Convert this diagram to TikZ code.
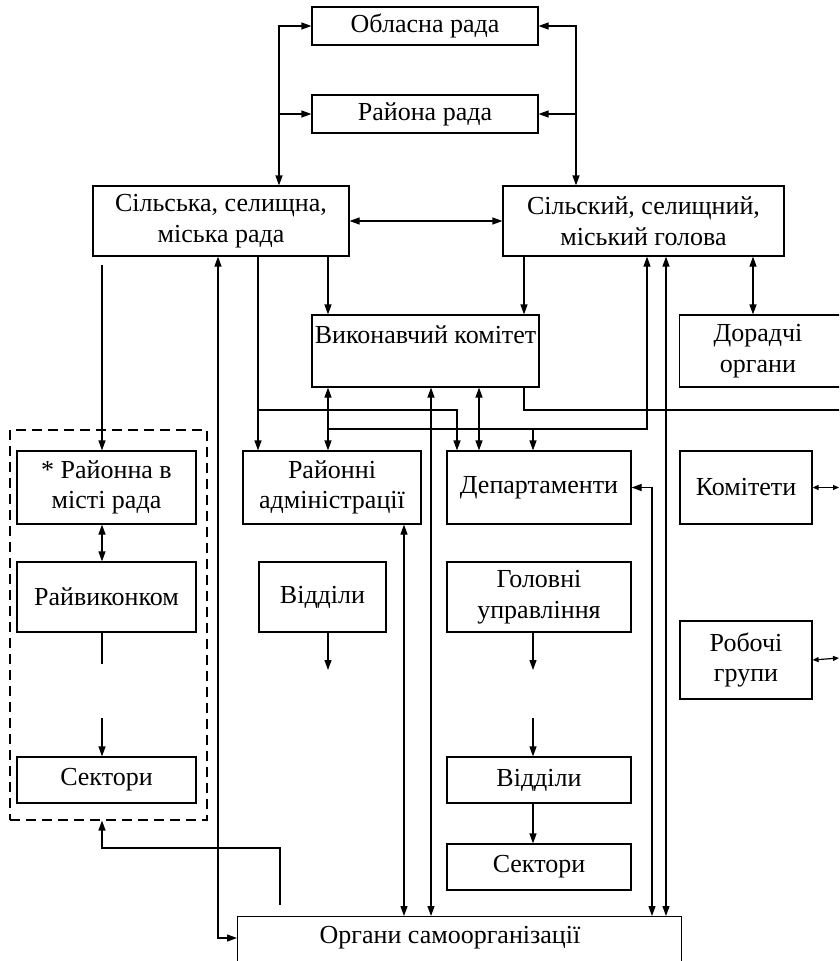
\documentclass[tikz,border=0pt]{standalone}
\usepackage{fontspec}
\setmainfont{Liberation Serif}
\usetikzlibrary{arrows.meta}
\begin{document}
\begin{tikzpicture}[x=1pt,y=-1pt,
  line width=1.2pt,
  >={Triangle[length=10pt,width=7pt]},
  box/.style={draw, line width=1.2pt, align=center, inner sep=0pt,
    font=\fontsize{26}{30.5}\selectfont},
  txt/.style={align=center, inner sep=0pt, font=\fontsize{26}{30.5}\selectfont},
  smallarr/.style={{Triangle[length=6pt,width=5pt]}-{Triangle[length=6pt,width=5pt]}},
  grpbox/.style={draw, line width=1.1pt, dash pattern=on 10pt off 6pt}]
\useasboundingbox (0,0) rectangle (839,961);
\clip (0,0) rectangle (839,961);
% boxes
\node[box, minimum width=226, minimum height=38] (obl) at (425,26) {Обласна рада};
\node[box, minimum width=226, minimum height=38] (ray) at (425,114) {Района рада};
\node[box, minimum width=256, minimum height=70] (srada) at (221,221) {Сільська, селищна,\\міська рада};
\node[box, minimum width=281, minimum height=70] (sgol) at (643.5,221) {Сільский, селищний,\\міський голова};
\node[box, minimum width=227, minimum height=72] (vyk) at (425.5,351) {};
\node[txt] (vykt) at (425.5,335) {Виконавчий комітет};
\node[box, minimum width=180, minimum height=72, anchor=west] (dor) at (679,351) {};
\node[txt] (dort) at (758,351) {Дорадчі\\органи};
\node[grpbox, minimum width=197, minimum height=390] (grp) at (108.5,625) {};
\node[box, minimum width=179, minimum height=73] (ravm) at (106.5,487.5) {* Районна в\\місті рада};
\node[box, minimum width=178, minimum height=73] (radm) at (332,487.5) {Районні\\адміністрації};
\node[box, minimum width=184, minimum height=73] (dep) at (539,487.5) {Департаменти};
\node[box, minimum width=132, minimum height=73] (kom) at (746,487.5) {Комітети};
\node[box, minimum width=179, minimum height=70] (rvk) at (106.5,597) {Райвиконком};
\node[box, minimum width=127, minimum height=70] (vid1) at (322.5,597) {Відділи};
\node[box, minimum width=184, minimum height=70] (golu) at (539,597) {Головні\\управління};
\node[box, minimum width=132, minimum height=78] (rob) at (746,660) {Робочі\\групи};
\node[box, minimum width=179, minimum height=46] (sek1) at (106.5,780) {Сектори};
\node[box, minimum width=184, minimum height=46] (vid2) at (539,780) {Відділи};
\node[box, minimum width=184, minimum height=46] (sek2) at (539,867) {Сектори};
\node[box, minimum width=444, minimum height=70, anchor=north west] (org) at (237,916) {};
\node[txt] (orgt) at (450,938) {Органи самоорганізації};
% helper coordinates
\coordinate (x102) at (102,0);
\coordinate (x218) at (218,0);
\coordinate (x258) at (258,0);
\coordinate (x279) at (279,0);
\coordinate (x280) at (280,0);
\coordinate (x328) at (328,0);
\coordinate (x404) at (404,0);
\coordinate (x431) at (431,0);
\coordinate (x457) at (457,0);
\coordinate (x479) at (479,0);
\coordinate (x524) at (524,0);
\coordinate (x533) at (533,0);
\coordinate (x576) at (576,0);
\coordinate (x647) at (647,0);
\coordinate (x652) at (652,0);
\coordinate (x666) at (666,0);
\coordinate (x753) at (753,0);
\coordinate (y410) at (0,410);
\coordinate (y429) at (0,429);
\coordinate (y848) at (0,848);
\coordinate (y938) at (0,938);
\coordinate (offr) at (860,410);
\coordinate (komr) at (839,487.5);
\coordinate (robr) at (839,658);
\coordinate (e1) at (102,664);
\coordinate (s1) at (102,718);
\coordinate (e2) at (328,670);
\coordinate (e3) at (533,670);
\coordinate (s3) at (533,718);
% connectors
\draw[<->] (obl.west) -| (x279 |- srada.north);
\draw[->] (x279 |- ray.west) -- (ray.west);
\draw[<->] (obl.east) -| (x576 |- sgol.north);
\draw[->] (x576 |- ray.east) -- (ray.east);
\draw[<->] (srada.east) -- (sgol.west);
\draw[->] (srada.south -| x328) -- (vyk.north -| x328);
\draw[->] (sgol.south -| x524) -- (vyk.north -| x524);
\draw[<->] (sgol.south -| x753) -- (dor.north -| x753);
\draw[->, shorten <=8pt] (srada.south -| x102) -- (ravm.north -| x102);
\draw[<->] (srada.south -| x218) |- (org.west |- y938);
\draw[->] (srada.south -| x258) -- (radm.north -| x258);
\draw[->] (x258 |- y410) -| (dep.north -| x457);
\draw (vyk.south -| x524) |- (offr);
\draw[<->] (vyk.south -| x328) -- (radm.north -| x328);
\draw[->] (x328 |- y429) -| (sgol.south -| x647);
\draw[->] (x533 |- y429) -- (dep.north -| x533);
\draw[<->] (vyk.south -| x431) -- (org.north -| x431);
\draw[<->] (vyk.south -| x479) -- (dep.north -| x479);
\draw[<->] (radm.south -| x404) -- (org.north -| x404);
\draw[<->] (dep.east) -| (org.north -| x652);
\draw[<->] (sgol.south -| x666) -- (org.north -| x666);
\draw[smallarr] (kom.east) -- (komr);
\draw[smallarr] (rob.east) -- (robr);
\draw[<->] (ravm.south -| x102) -- (rvk.north -| x102);
\draw (rvk.south -| x102) -- (e1);
\draw[->] (s1) -- (sek1.north -| x102);
\draw[->] (vid1.south -| x328) -- (e2);
\draw[->] (golu.south -| x533) -- (e3);
\draw[->] (s3) -- (vid2.north -| x533);
\draw[->] (vid2.south -| x533) -- (sek2.north -| x533);
\draw[->, shorten <=11pt] (org.north -| x280) -- (x280 |- y848) -| (grp.south -| x102);
\end{tikzpicture}
\end{document}
